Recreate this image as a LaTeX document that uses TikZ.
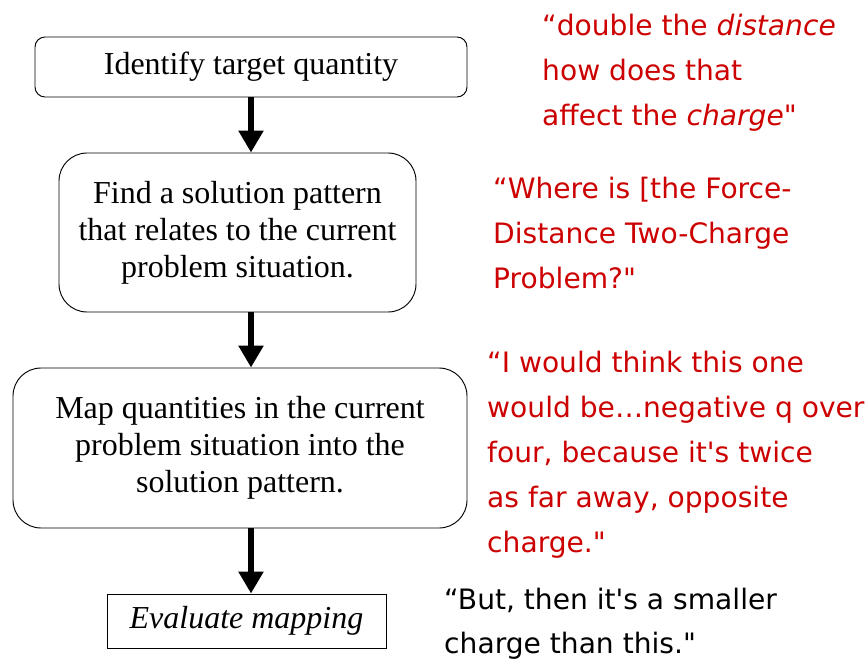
\documentclass[tikz,border=0pt]{standalone}
\usepackage{fontspec}
\setmainfont{Liberation Serif}
\newfontfamily\handfont[Ligatures=ResetAll]{DejaVu Sans}
\usetikzlibrary{arrows.meta,calc}
\definecolor{quotered}{RGB}{204,0,0}

\begin{document}
\begin{tikzpicture}[
  stepbox/.style={rectangle, draw, line width=0.8pt, align=center, font=\fontsize{27.3}{31.5}\selectfont},
  arrow/.style={-{Triangle[width=0.72cm, length=0.66cm]}, line width=5pt},
  remark/.style={anchor=north west, inner sep=0pt, align=left, text=quotered, font=\handfont\fontsize{24}{38.4}\selectfont},
]
\useasboundingbox (0,0) rectangle (26.04,-19.89);

% === Process steps ===
\node[stepbox, rounded corners=0.3cm, minimum width=12.96cm, minimum height=1.8cm] (id) at (7.53, -2.01) {Identify target quantity};
\node[stepbox, rounded corners=0.84cm, minimum width=10.71cm, minimum height=4.77cm] (find) at (7.125, -6.975)
  {Find a solution pattern\\that relates to the current\\problem situation.};
\node[stepbox, rounded corners=0.84cm, minimum width=13.62cm, minimum height=4.8cm] (map) at (7.2, -13.44)
  {Map quantities in the current\\problem situation into the\\solution pattern.};
\node[stepbox, minimum width=8.37cm, minimum height=1.62cm] (eval) at (7.395, -18.63) {\textit{Evaluate mapping}};

\draw[arrow] (id.south) -- (id.south |- find.north);
\draw[arrow] (id.south |- find.south) -- (id.south |- map.north);
\draw[arrow] (id.south |- map.south) -- (id.south |- eval.north);

% === Student remarks ===
\node[remark] (q1) at (16.26, -0.42) {“double the \textit{distance}\\how does that\\affect the \textit{charge}"};
\node[remark] (q2) at (14.79, -5.31) {“Where is [the Force-\\Distance Two-Charge\\Problem?"};
\node[remark] (q3) at (14.61, -10.53) {“I would think this one\\would be…negative q over\\four, because it's twice\\as far away, opposite\\charge."};
\node[remark, text=black, font=\handfont\fontsize{24}{37.2}\selectfont] (q4) at (13.32, -17.64) {“But, then it's a smaller\\charge than this."};

\end{tikzpicture}
\end{document}
